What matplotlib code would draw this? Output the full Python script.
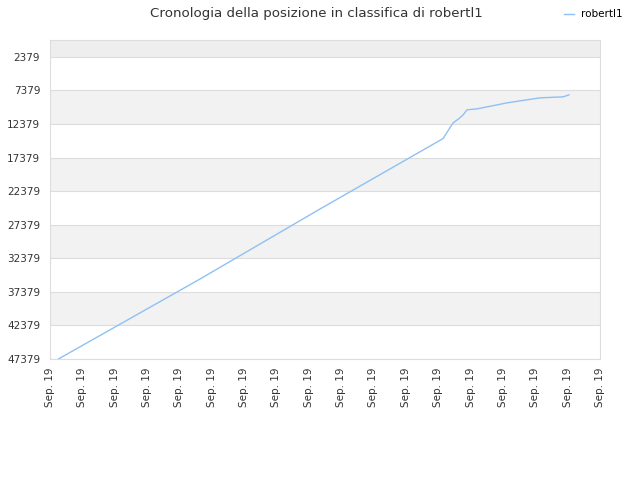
import matplotlib
matplotlib.use("Agg")
import matplotlib.pyplot as plt

# ── data ───────────────────────────────────────────────────
player = "robertl1"
# x positions in tick units (ticks 0..17, all labelled "Sep. 19")
x_pos = [0.26, 4.64, 8.35, 12.15, 12.46, 12.67, 12.77, 12.89,
         13.2, 13.51, 14.13, 14.53, 15.15, 15.86, 16.04]
rank = [47379, 35458, 25028, 14550, 12213, 11468, 11021, 10276,
        10127, 9829, 9233, 8935, 8488, 8339, 8041]
x_labels = ["Sep. 19"] * 18
y_ticks = [2379, 7379, 12379, 17379, 22379, 27379, 32379, 37379, 42379, 47379]

fig = plt.figure(figsize=(6.4, 4.8), dpi=100)
ax = fig.add_axes([0.078, 0.252, 0.8595, 0.665])

y_top = -150
# alternating bands
bands = [(y_top, 2379, "#eeeeee")]
for i in range(1, len(y_ticks) - 1, 2):
    bands.append((y_ticks[i], y_ticks[i + 1], "#f2f2f2"))
for lo, hi, c in bands:
    ax.axhspan(lo, hi, color=c, zorder=0, linewidth=0)
for yt in y_ticks:
    ax.axhline(yt, color="#dddddd", linewidth=0.8, zorder=1)

ax.plot(x_pos, rank, color="#90c0f3", linewidth=1.0, label=player, zorder=3)

ax.set_xlim(0, 17)
ax.set_ylim(47379, y_top)
ax.set_yticks(y_ticks)
ax.set_yticklabels([str(v) for v in y_ticks])
ax.set_xticks(range(18))
ax.set_xticklabels(x_labels, rotation=90)
ax.tick_params(axis="both", labelsize=7.5, colors="#333333", length=0, pad=7)
ax.tick_params(axis="x", pad=6)
for s in ax.spines.values():
    s.set_color("#dddddd")
    s.set_linewidth(0.8)

fig.suptitle("Cronologia della posizione in classifica di robertl1",
             fontsize=9.6, color="#333333", y=0.985, x=0.495)
fig.legend(loc="upper right", bbox_to_anchor=(0.988, 1.0), frameon=False,
           fontsize=7.5, handlelength=1.0, handletextpad=0.7)

fig.savefig("out.png", dpi=100)
